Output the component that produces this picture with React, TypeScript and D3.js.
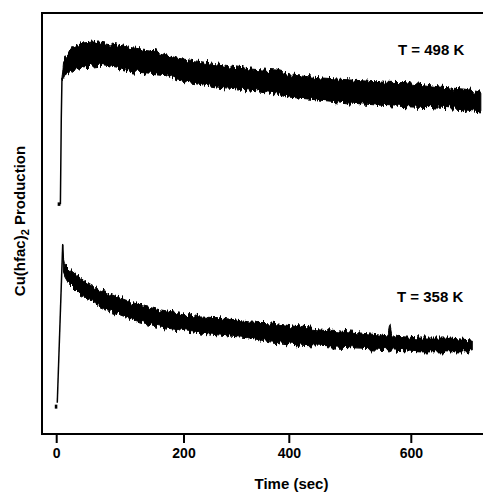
import React from 'react';
import * as d3 from 'd3';

const W = 483;
const H = 492;
const margin = { top: 13, left: 42, bottom: 434 };

// axis
const xTicks = [0, 200, 400, 600];
// the printed axis is not evenly spaced, so the scale follows the tick positions
const xTickPixels = [56.7, 184, 289.3, 411.3];
const xLabel = 'Time (sec)';

// T = 498 K trace (signal in arbitrary units, envelope of the noisy band)
const hotLabel = 'T = 498 K';
const hotBaseTime = [1.5, 5.8];
const hotBaseValue = [54.6, 54.6];
const hotRiseTime = [5.8, 7.2, 8.3];
const hotRiseValue = [54.6, 75, 84.6];
const hotTime = [8.3, 10.8, 13.0, 25.6, 41.3, 57.0, 68.0, 94.7, 119.9, 146.6, 173.3, 189.0, 211.4, 262.7, 325.4, 376.6, 401.1, 450, 500, 549, 598, 647, 688, 714];
const hotHigh = [84.6, 88.8, 89.3, 91.9, 92.9, 93.1, 93.1, 92.4, 91.7, 91.2, 90.0, 89.3, 88.8, 87.9, 86.7, 86.2, 85.3, 84.6, 84.1, 83.6, 83.4, 82.4, 81.9, 81.2];
const hotLow = [84.1, 84.6, 85.3, 86.5, 87.2, 87.4, 87.6, 86.9, 86.0, 85.7, 85.3, 84.1, 83.4, 82.4, 81.7, 81.0, 80.0, 79.3, 78.6, 78.1, 77.7, 77.4, 77.0, 76.5];

// T = 358 K trace
const coldLabel = 'T = 358 K';
const coldBaseTime = [-3, 1.0];
const coldBaseValue = [6.5, 6.5];
const coldRiseTime = [0.9, 9.4];
const coldRiseValue = [7.4, 44.9];
const coldTime = [9.4, 10.7, 13.0, 20.9, 36.6, 52.3, 68.0, 99.4, 130.9, 162.3, 193.7, 230.4, 268.4, 325.4, 363, 418, 467, 516, 562, 565, 568, 614, 663, 700];
const coldHigh = [44.9, 41.8, 40.1, 39.0, 37.1, 35.4, 34.2, 32.3, 30.6, 29.5, 28.7, 27.8, 27.6, 26.6, 26.4, 25.4, 24.7, 24.0, 23.3, 25.7, 23.3, 22.8, 22.8, 22.3];
const coldLow = [43.5, 38.5, 37.5, 35.4, 33.0, 31.8, 30.2, 28.3, 26.6, 25.4, 24.7, 24.0, 23.5, 22.8, 21.9, 21.1, 20.7, 20.4, 20.0, 20.0, 20.0, 19.5, 19.5, 19.5];

const font = '"Liberation Sans", Arial, Helvetica, sans-serif';

export default function App() {
  const x = d3.scaleLinear().domain(xTicks).range(xTickPixels);
  const y = d3.scaleLinear().domain([0, 100]).range([margin.bottom, margin.top]);

  const makeBand = (t: number[], hi: number[], lo: number[]) =>
    d3
      .area<number>()
      .x((i) => x(t[i]))
      .y0((i) => y(lo[i]))
      .y1((i) => y(hi[i]))(t.map((_, i) => i)) || '';

  const makeLine = (t: number[], v: number[]) =>
    d3
      .line<number>()
      .x((i) => x(t[i]))
      .y((i) => y(v[i]))(t.map((_, i) => i)) || '';

  return (
    <svg
      width={W}
      height={H}
      style={{ position: 'absolute', left: 0, top: 0, background: '#fff' }}
      fontFamily={font}
      fontWeight="bold"
    >
      <defs>
        {/* ragged vertical edges so the band reads like a noisy detector trace */}
        <filter id="noisy" x="-2%" y="-40%" width="104%" height="180%">
          <feTurbulence type="fractalNoise" baseFrequency="0.45 0.05" numOctaves={3} seed={3} result="turb" />
          <feColorMatrix
            in="turb"
            type="matrix"
            values="0 0 0 0 0.5  0 1 0 0 0  0 0 0 0 0  0 0 0 0 1"
            result="map"
          />
          <feDisplacementMap in="SourceGraphic" in2="map" scale={10} xChannelSelector="R" yChannelSelector="G" />
        </filter>
      </defs>

      {/* frame */}
      <line x1={margin.left} x2={W} y1={margin.top} y2={margin.top} stroke="#000" strokeWidth={2} />
      <line x1={margin.left} x2={margin.left} y1={margin.top - 1} y2={margin.bottom + 1} stroke="#000" strokeWidth={2} />
      <line x1={margin.left - 1} x2={W} y1={margin.bottom} y2={margin.bottom} stroke="#000" strokeWidth={2} />

      {xTicks.map((t) => (
        <g key={t} transform={`translate(${x(t)},${margin.bottom})`}>
          <line y1={0} y2={9} stroke="#000" strokeWidth={2} />
          <text y={24} textAnchor="middle" fontSize={14}>
            {t}
          </text>
        </g>
      ))}

      <text x={291.5} y={489} textAnchor="middle" fontSize={15}>
        {xLabel}
      </text>

      <text transform="translate(25,221) rotate(-90)" textAnchor="middle" fontSize={15}>
        Cu(hfac)
        <tspan fontSize={11} dy={4}>2</tspan>
        <tspan dy={-4}> Production</tspan>
      </text>

      {/* 498 K */}
      <path d={makeLine(hotBaseTime, hotBaseValue)} stroke="#000" strokeWidth={3.5} fill="none" />
      <path d={makeLine(hotRiseTime, hotRiseValue)} stroke="#000" strokeWidth={1.5} fill="none" />
      <path d={makeBand(hotTime, hotHigh, hotLow)} fill="#000" stroke="#000" strokeWidth={1} filter="url(#noisy)" />

      {/* 358 K */}
      <path d={makeLine(coldBaseTime, coldBaseValue)} stroke="#000" strokeWidth={4} fill="none" />
      <path d={makeLine(coldRiseTime, coldRiseValue)} stroke="#000" strokeWidth={1.5} fill="none" />
      <path d={makeBand(coldTime, coldHigh, coldLow)} fill="#000" stroke="#000" strokeWidth={1} filter="url(#noisy)" />

      <text x={398} y={55} fontSize={15}>
        {hotLabel}
      </text>
      <text x={397} y={302} fontSize={15}>
        {coldLabel}
      </text>
    </svg>
  );
}
